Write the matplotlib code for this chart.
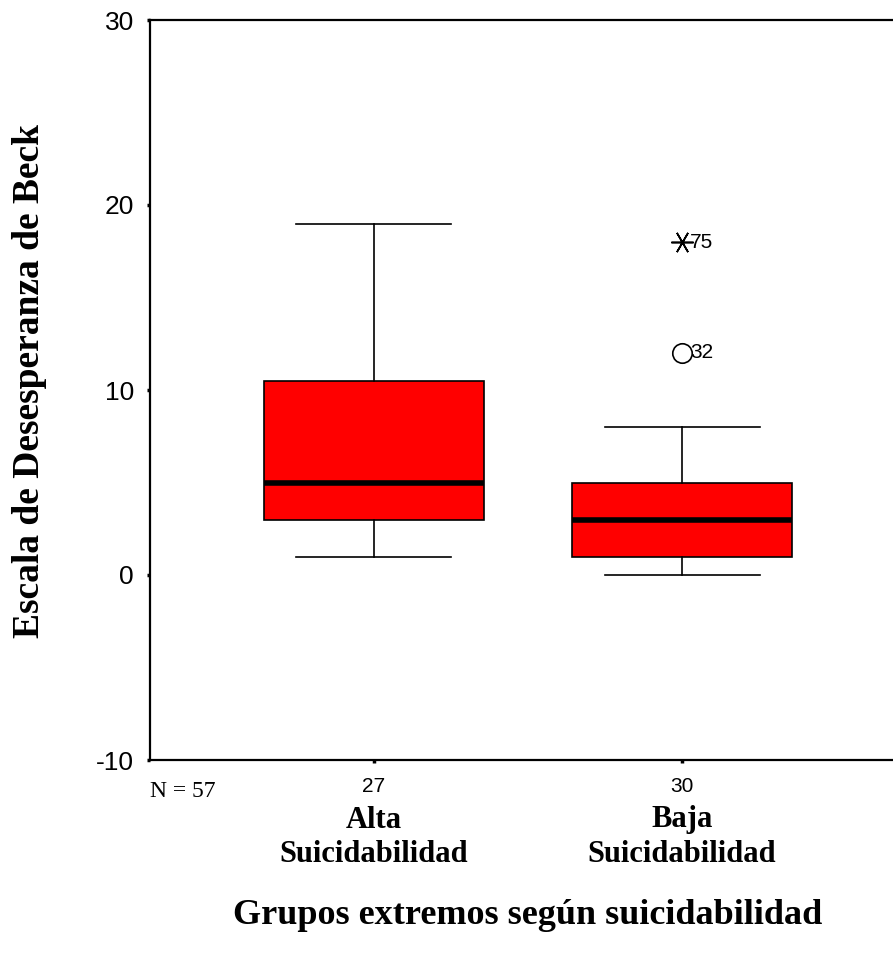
import matplotlib
matplotlib.use("Agg")
import matplotlib.pyplot as plt

# Boxplot summary
groups = ["Alta\nSuicidabilidad", "Baja\nSuicidabilidad"]
n_cases = [27, 30]
n_total = 57
q1 = [3, 1]
medians = [5, 3]
q3 = [10.5, 5]
whisker_low = [1, 0]
whisker_high = [19, 8]

# outliers of group 2: (value, case number)
outlier_vals = [12]
outlier_cases = ["32"]
extreme_vals = [18]
extreme_cases = ["75"]

yticks = [-10, 0, 10, 20, 30]

sans = "Liberation Sans"
serif = "Liberation Serif"

fig = plt.figure(figsize=(8.93, 9.56), dpi=100)
ax = fig.add_axes([150 / 893, 1 - 760 / 956, 756 / 893, 740 / 956])

positions = [1, 2]
stats = []
for i in range(len(groups)):
    stats.append(dict(med=medians[i], q1=q1[i], q3=q3[i],
                      whislo=whisker_low[i], whishi=whisker_high[i], fliers=[]))

ax.bxp(stats, positions=positions, widths=0.714, capwidths=0.503,
       showfliers=False, patch_artist=True,
       boxprops=dict(facecolor="#ff0000", edgecolor="black", linewidth=1.2),
       medianprops=dict(color="black", linewidth=4.0, solid_capstyle="butt"),
       whiskerprops=dict(color="black", linewidth=1.2),
       capprops=dict(color="black", linewidth=1.2))

# outliers (circle) and extremes (asterisk) for the second group
ax.plot([positions[1]] * len(outlier_vals), outlier_vals, linestyle="none",
        marker="o", markersize=14, markerfacecolor="white",
        markeredgecolor="black", markeredgewidth=1.2, zorder=5)
ax.plot([positions[1]] * len(extreme_vals), extreme_vals, linestyle="none",
        marker=(6, 2, 90), markersize=16, markeredgecolor="black",
        markeredgewidth=1.2, zorder=5)
for v, c in zip(outlier_vals + extreme_vals, outlier_cases + extreme_cases):
    ax.annotate(c, (positions[1], v), xytext=(6, 0), textcoords="offset points",
                ha="left", va="center", fontsize=15, family=sans)

ax.set_xlim(0.273, 2.727)
ax.set_ylim(-10, 30)
ax.set_yticks(yticks)
ax.set_yticklabels([str(t) for t in yticks], fontsize=19, family=sans)
ax.set_xticks(positions)
ax.set_xticklabels([str(n) for n in n_cases], fontsize=15, family=sans)
ax.tick_params(axis="y", length=2.5, width=2.5, pad=9, direction="out")
ax.tick_params(axis="x", length=2.5, width=2.5, pad=10, direction="out")

for side in ["left", "bottom", "top"]:
    ax.spines[side].set_linewidth(1.6)
ax.spines["right"].set_visible(False)

# group names below the counts
trans = ax.get_xaxis_transform()
for p, g in zip(positions, groups):
    first, second = g.split("\n")
    ax.text(p, -60 / 740, first, transform=trans, ha="center", va="center",
            fontsize=22, fontweight="bold", family=serif, clip_on=False)
    ax.text(p, -95 / 740, second, transform=trans, ha="center", va="center",
            fontsize=22, fontweight="bold", family=serif, clip_on=False)

ax.text(0.0, -0.043, "N = %d" % n_total, transform=ax.transAxes, ha="left",
        va="center", fontsize=17, family=serif, clip_on=False)

ax.text(0.5, -155 / 740, "Grupos extremos según suicidabilidad",
        transform=ax.transAxes, ha="center", va="center", fontsize=26,
        fontweight="bold", family=serif, clip_on=False)
fig.text(30 / 893, 1 - 381 / 956, "Escala de Desesperanza de Beck", rotation=90,
         ha="center", va="center", fontsize=27, fontweight="bold", family=serif)

plt.savefig("out.png", dpi=100)
